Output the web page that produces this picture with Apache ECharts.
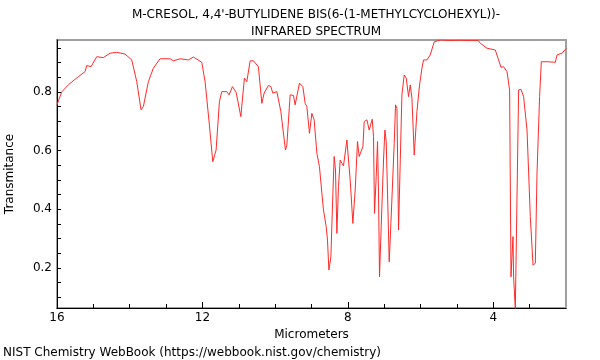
<!DOCTYPE html>
<html>
<head>
<meta charset="utf-8">
<script src="https://cdn.jsdelivr.net/npm/echarts@6/dist/echarts.min.js"></script>
<style>html,body{margin:0;padding:0;background:#fff}#c{width:600px;height:360px}</style>
</head>
<body>
<div id="c"></div>
<script>
var wavelength = [16.000,15.871,15.689,15.414,15.229,15.183,15.064,14.907,14.726,14.541,14.357,14.128,13.944,13.806,13.688,13.625,13.487,13.350,13.165,12.890,12.799,12.615,12.386,12.249,12.017,11.927,11.808,11.715,11.624,11.533,11.467,11.329,11.266,11.175,11.073,10.944,10.900,10.845,10.779,10.688,10.597,10.460,10.366,10.303,10.184,10.118,10.063,9.953,9.843,9.716,9.678,9.587,9.496,9.450,9.403,9.331,9.238,9.174,9.128,9.056,8.990,8.927,8.852,8.781,8.715,8.671,8.596,8.560,8.522,8.467,8.412,8.376,8.340,8.302,8.258,8.211,8.164,8.120,8.073,8.027,7.982,7.936,7.862,7.798,7.735,7.688,7.641,7.586,7.550,7.476,7.432,7.413,7.366,7.330,7.294,7.267,7.220,7.184,7.157,7.129,7.083,7.019,6.981,6.945,6.909,6.862,6.816,6.772,6.725,6.689,6.650,6.606,6.513,6.450,6.394,6.331,6.284,6.238,6.174,6.100,6.028,5.962,5.918,5.825,5.734,5.624,5.459,5.183,4.908,4.633,4.413,4.358,4.174,3.945,3.854,3.788,3.716,3.623,3.551,3.513,3.458,3.441,3.394,3.303,3.238,3.166,3.072,2.982,2.907,2.844,2.797,2.726,2.679,2.522,2.294,2.247,2.109,2.018,1.990];
var transmittance = [0.756,0.800,0.824,0.852,0.869,0.890,0.886,0.920,0.917,0.932,0.935,0.929,0.909,0.835,0.739,0.750,0.835,0.881,0.913,0.913,0.906,0.913,0.909,0.919,0.901,0.835,0.687,0.562,0.602,0.767,0.801,0.801,0.790,0.818,0.799,0.716,0.722,0.847,0.835,0.906,0.906,0.886,0.761,0.796,0.822,0.818,0.796,0.801,0.733,0.602,0.619,0.790,0.788,0.756,0.761,0.830,0.818,0.761,0.750,0.659,0.727,0.705,0.591,0.545,0.455,0.398,0.341,0.295,0.193,0.238,0.455,0.580,0.534,0.318,0.477,0.568,0.557,0.548,0.551,0.636,0.631,0.500,0.352,0.466,0.631,0.580,0.580,0.614,0.699,0.705,0.707,0.670,0.670,0.707,0.648,0.386,0.511,0.631,0.455,0.170,0.341,0.568,0.670,0.631,0.455,0.221,0.352,0.358,0.625,0.756,0.744,0.330,0.790,0.858,0.847,0.784,0.824,0.779,0.585,0.733,0.824,0.881,0.909,0.909,0.926,0.971,0.977,0.975,0.976,0.975,0.975,0.966,0.949,0.943,0.909,0.884,0.886,0.869,0.807,0.170,0.307,0.170,0.060,0.807,0.809,0.784,0.670,0.375,0.210,0.216,0.524,0.784,0.903,0.903,0.901,0.926,0.932,0.945,0.947];
var xMajorTicks = [4, 8, 12, 16];
var xMinorTicks = [3, 5, 6, 7, 9, 10, 11, 13, 14, 15];
var yLabels = [0.2, 0.4, 0.6, 0.8];
var yTicks = [0.1,0.15,0.2,0.25,0.3,0.35,0.4,0.45,0.5,0.55,0.6,0.65,0.7,0.75,0.8,0.85,0.9,0.95];

var points = wavelength.map(function (w, i) { return [w, transmittance[i]]; });
var font = 'DejaVu Sans';
var chart = echarts.init(document.getElementById('c'), null, {renderer: 'canvas'});
chart.setOption({
  animation: false,
  backgroundColor: '#fff',
  title: {
    text: "M-CRESOL, 4,4'-BUTYLIDENE BIS(6-(1-METHYLCYCLOHEXYL))-\nINFRARED SPECTRUM",
    left: 311, top: 1, textAlign: 'center',
    textStyle: {fontFamily: font, fontSize: 12, fontWeight: 'normal', color: '#000', lineHeight: 17}
  },
  grid: {left: 57, right: 34, top: 40, bottom: 52, outerBoundsMode: 'none', containLabel: false,
    show: true, borderColor: '#a0a0a0', borderWidth: 2, backgroundColor: 'transparent'},
  xAxis: [{
    type: 'value', min: 2, max: 16, inverse: true, position: 'bottom',
    axisLine: {show: true, onZero: false, lineStyle: {color: '#000', width: 1}},
    axisTick: {show: true, inside: true, length: 4, customValues: xMinorTicks, lineStyle: {color: '#000'}},
    axisLabel: {show: false}, splitLine: {show: false}
  }, {
    type: 'value', min: 2, max: 16, inverse: true, position: 'bottom',
    name: 'Micrometers', nameLocation: 'middle', nameGap: 18,
    nameTextStyle: {fontFamily: font, fontSize: 12, color: '#000'},
    axisLine: {show: false, onZero: false},
    axisTick: {show: true, inside: true, length: 6, customValues: xMajorTicks, lineStyle: {color: '#000'}},
    axisLabel: {show: true, customValues: xMajorTicks, margin: 4, fontFamily: font, fontSize: 12, color: '#000'},
    splitLine: {show: false}
  }],
  yAxis: {
    type: 'value', min: 0.0636, max: 0.977,
    name: 'Transmitance', nameLocation: 'middle', nameGap: 41,
    nameTextStyle: {fontFamily: font, fontSize: 12, color: '#000'},
    axisLine: {show: true, onZero: false, lineStyle: {color: '#000', width: 1}},
    axisTick: {show: true, inside: true, length: 4, customValues: yTicks, lineStyle: {color: '#000'}},
    axisLabel: {show: true, customValues: yLabels, margin: 5, fontFamily: font, fontSize: 12, color: '#000',
      formatter: function (v) { return v.toFixed(1); }},
    splitLine: {show: false}
  },
  graphic: [{
    type: 'text', left: 3, top: 347,
    style: {text: 'NIST Chemistry WebBook (https://webbook.nist.gov/chemistry)', fontFamily: font, fontSize: 12, fill: '#000'}
  }],
  series: [{
    type: 'line', xAxisIndex: 0, data: points, showSymbol: false, symbol: 'none', clip: true,
    lineStyle: {color: '#ff2a2a', width: 1}
  }]
});
</script>
</body>
</html>
